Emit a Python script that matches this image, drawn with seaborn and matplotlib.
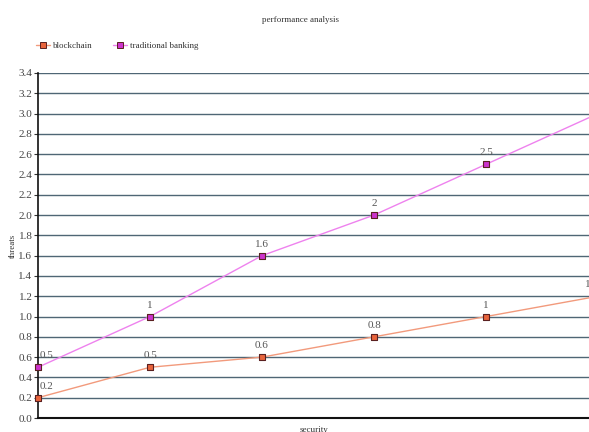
import matplotlib
matplotlib.use("Agg")
import matplotlib.pyplot as plt
from matplotlib.lines import Line2D
import seaborn as sns
import pandas as pd

steps = [0, 1, 2, 3, 4, 5]
blockchain = [0.2, 0.5, 0.6, 0.8, 1, 1.2]
traditional_banking = [0.5, 1, 1.6, 2, 2.5, 3.0]
series_names = ["blockchain", "traditional banking"]
y_ticks = [round(0.2 * i, 1) for i in range(18)]

sns.set_theme(style="white")
plt.rcParams["font.family"] = ["Liberation Serif", "DejaVu Serif"]

df = pd.DataFrame({
    "security": steps * 2,
    "threats": blockchain + traditional_banking,
    "series": [series_names[0]] * len(steps) + [series_names[1]] * len(steps),
})

line_colors = {"blockchain": "#f29a7c", "traditional banking": "#ee82ee"}
marker_colors = {"blockchain": "#e8643c", "traditional banking": "#cc33cc"}

fig = plt.figure(figsize=(5.89, 4.32), dpi=100)
ax = fig.add_axes([38 / 589, 14 / 432, 1 - 38 / 589, 345 / 432])

sns.lineplot(data=df, x="security", y="threats", hue="series",
             palette=line_colors, ax=ax, linewidth=1.0, legend=False)

for name, vals in zip(series_names, [blockchain, traditional_banking]):
    ax.scatter(steps, vals, marker="s", s=22, color=marker_colors[name],
               edgecolor="#5a2020", linewidth=0.8, zorder=5, clip_on=False)
    for i, (xv, yv) in enumerate(zip(steps, vals)):
        if i == 0:
            ha, dx = "left", 1
        elif i == len(steps) - 1:
            ha, dx = "center", -4.3
        else:
            ha, dx = "center", 0
        ax.annotate(f"{yv:g}", (xv, yv), xytext=(dx, 5), textcoords="offset points",
                    ha=ha, va="bottom", fontsize=8, color="#555555",
                    annotation_clip=False)

ax.set_xlim(0, 551 / 112)
ax.set_ylim(0, 3.4)
ax.set_yticks(y_ticks)
ax.set_yticklabels([f"{t:.1f}" for t in y_ticks], fontsize=8, color="#444444")
ax.set_xticks([])
ax.yaxis.grid(True, color="#4f6675", linewidth=1.0)
ax.set_axisbelow(True)
ax.tick_params(axis="y", which="both", left=True, length=3, width=0.8, color="#333333", pad=1)
for side in ["top", "right"]:
    ax.spines[side].set_visible(False)
ax.spines["left"].set_color("#111111")
ax.spines["bottom"].set_color("#111111")
ax.spines["left"].set_linewidth(1.2)
ax.spines["bottom"].set_linewidth(1.5)

ax.set_ylabel("threats", fontsize=6.5, color="#333333", labelpad=1)
ax.set_xlabel("security", fontsize=6.5, color="#333333", labelpad=6)

fig.text(300 / 589, 1 - 20 / 432, "performance analysis", ha="center", va="center",
         fontsize=6.5, color="#333333")

handles = [Line2D([0], [0], color=line_colors[n], marker="s", markersize=4.2,
                  markerfacecolor=marker_colors[n], markeredgecolor="#5a2020",
                  markeredgewidth=0.7, linewidth=1.0) for n in series_names]
fig.legend(handles, series_names, loc="center left",
           bbox_to_anchor=(36 / 589, 1 - 46 / 432),
           ncol=2, frameon=False, fontsize=6.5, handlelength=1.55,
           columnspacing=2.2, handletextpad=0.35, borderpad=0,
           borderaxespad=0, labelcolor="#333333")

fig.savefig("out.png", dpi=100)
